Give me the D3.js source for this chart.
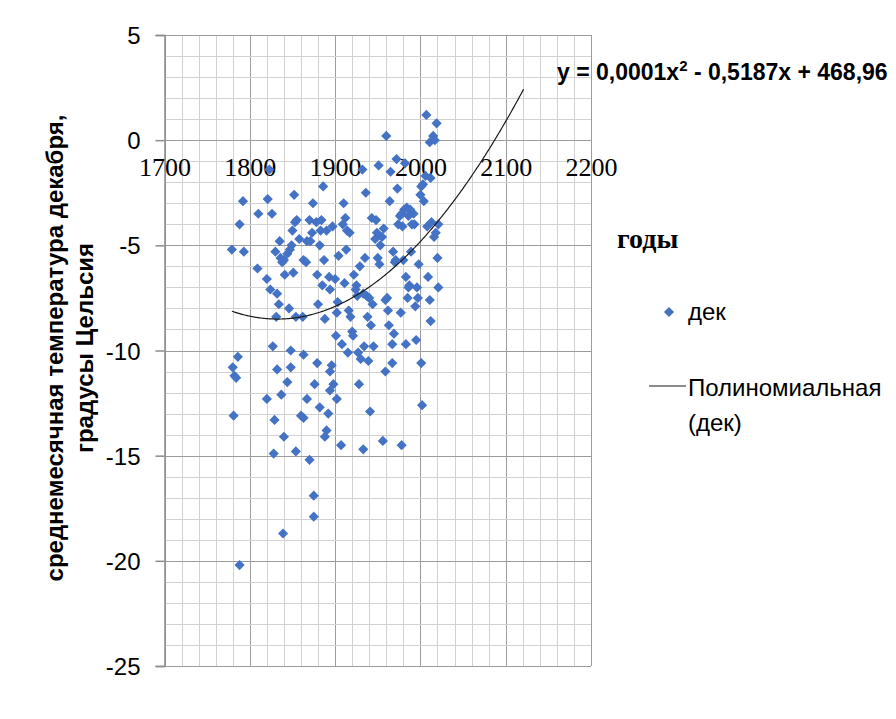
<!DOCTYPE html>
<html>
<head>
<meta charset="utf-8">
<script src="https://cdn.jsdelivr.net/npm/d3@7"></script>
<style>
  body { margin: 0; background: #fff; }
  svg { display: block; }
</style>
</head>
<body>
<div id="chart"></div>
<script>
// December mean temperatures
const years = [
  2007, 2019, 1960, 2015, 2011, 2017, 1951, 1972, 1965, 1982, 1932, 1823, 2006, 2012, 2003, 2001,
  1886, 1852, 1936, 1973, 1792, 1821, 1874, 1910, 1964, 2000, 2004, 1810, 1826, 1855, 1870, 1878,
  1884, 1897, 1912, 1909, 1943, 1948, 1976, 1984, 1992, 1979, 1993, 1974, 1986, 2008, 2013, 2021,
  2018, 2016, 1788, 1850, 1873, 1858, 1867, 1883, 1890, 1914, 1949, 1957, 1955, 1947, 1953, 1835,
  1871, 1853, 1849, 1917, 1981, 1990, 1978, 1988,
  1882, 1913, 1779, 1793, 1830, 1836, 1840, 1844, 1847, 1838, 1863, 1866, 1887, 1904, 1935, 1929,
  1950, 1952, 1968, 1970, 1971, 1980, 1989, 1998, 2020, 1809, 1820, 1841, 1851, 1824, 1832, 1834,
  1846, 1831, 1854, 1862, 1879, 1885, 1893, 1894, 1900, 1911, 1922, 1925, 1924, 1880, 1888, 1903,
  1902, 1916, 1918, 1920, 1901, 1908, 1915, 1926, 1937, 1940, 1944, 1959, 1961, 1962, 1938, 1942,
  1963, 1934, 1927, 1930, 1939, 1945, 1969, 1967, 1977, 1983, 1987, 1986, 1996, 1997, 1985, 1994,
  2009, 2011, 2021, 2012, 1983, 1995, 2001, 1959, 1967, 1827, 1786, 1780, 1784, 1782, 1848, 1863,
  1879, 1896, 1894, 1832, 1848, 1844, 1876, 1898, 1894, 1928, 1820, 1837, 1867, 1902, 1882, 1941,
  2002, 1781, 1829, 1860, 1863, 1892, 1890, 1888, 1840, 1907, 1933, 1956, 1978, 1828, 1854, 1870,
  1875, 1875, 1839, 1788, 1933, 1921
];
const decTemps = [
  1.2, 0.8, 0.2, 0.2, -0.1, 0.0, -1.2, -0.9, -1.5, -1.1, -1.4, -1.4, -1.7, -1.8, -2.1, -2.2,
  -2.2, -2.6, -2.5, -2.3, -2.9, -2.8, -3.0, -3.0, -2.9, -2.6, -2.9, -3.5, -3.5, -3.8, -3.8, -3.9,
  -3.8, -4.1, -3.7, -4.0, -3.7, -3.8, -3.6, -3.2, -3.5, -4.1, -4.0, -4.0, -3.6, -4.1, -3.9, -4.0,
  -4.4, -4.6, -4.0, -4.3, -4.4, -4.7, -4.8, -4.3, -4.3, -4.3, -4.4, -4.2, -4.6, -4.7, -5.0, -4.8,
  -4.8, -3.9, -5.0, -4.4, -3.3, -4.0, -3.5, -3.3,
  -5.0, -5.2, -5.2, -5.3, -5.3, -5.6, -5.7, -5.4, -5.2, -5.8, -5.7, -5.8, -5.7, -5.5, -5.6, -6.0,
  -5.6, -5.9, -5.3, -5.8, -5.7, -5.7, -5.3, -5.9, -5.6, -6.1, -6.6, -6.4, -6.3, -7.1, -7.3, -7.8,
  -8.0, -8.4, -8.4, -8.4, -6.4, -6.9, -6.5, -7.1, -6.6, -6.8, -6.4, -6.9, -7.1, -7.8, -8.5, -7.7,
  -8.2, -8.1, -8.4, -9.1, -9.3, -9.7, -10.1, -7.4, -7.4, -7.5, -7.8, -7.6, -7.5, -8.1, -8.4, -8.8,
  -8.8, -9.8, -10.1, -10.4, -10.5, -9.8, -9.2, -9.7, -8.2, -6.5, -6.9, -7.0, -7.0, -7.5, -7.5, -7.9,
  -6.5, -7.6, -7.0, -8.6, -9.7, -9.5, -10.6, -11.0, -10.6, -9.8, -10.3, -10.8, -11.3, -11.2, -10.0, -10.2,
  -10.6, -10.7, -11.0, -10.9, -10.8, -11.5, -11.6, -11.6, -11.9, -11.6, -12.3, -12.1, -12.3, -12.3, -12.7, -12.9,
  -12.6, -13.1, -13.3, -13.1, -13.2, -13.0, -13.8, -14.1, -14.1, -14.5, -14.7, -14.3, -14.5, -14.9, -14.8, -15.2,
  -16.9, -17.9, -18.7, -20.2, -7.3, -9.3
];

const xTicks = [1700, 1800, 1900, 2000, 2100, 2200];
const yTicks = [5, 0, -5, -10, -15, -20, -25];
const seriesName = 'дек';
const trendName = ['Полиномиальная', '(дек)'];
const forecastYears = 100;

const width = 896, height = 719;
const plot = { left: 164.5, right: 591, top: 35, bottom: 666 };
const blue = '#4472c4';
const sans = '"Liberation Sans", Arial, sans-serif';
const serif = '"Liberation Serif", "Times New Roman", serif';

const svg = d3.select('#chart')
  .append('svg')
  .attr('width', width)
  .attr('height', height);

svg.append('rect').attr('width', width).attr('height', height).attr('fill', '#fff');

const x = d3.scaleLinear().domain([1700, 2200]).range([plot.left, plot.right]);
const y = d3.scaleLinear().domain([-25, 5]).range([plot.bottom, plot.top]);

// Grid: minor every 20 years / 1 degree, major every 100 years / 5 degrees
const grid = svg.append('g').attr('shape-rendering', 'crispEdges');
d3.range(1700, 2201, 20).forEach(v => {
  const major = v % 100 === 0;
  grid.append('line')
    .attr('x1', Math.round(x(v)) + 0.5).attr('x2', Math.round(x(v)) + 0.5)
    .attr('y1', plot.top).attr('y2', plot.bottom)
    .attr('stroke', major ? '#9c9c9c' : '#d2d2d2')
    .attr('stroke-width', 1.5);
});
d3.range(-25, 6, 1).forEach(v => {
  const major = v % 5 === 0;
  grid.append('line')
    .attr('x1', plot.left).attr('x2', plot.right)
    .attr('y1', Math.round(y(v)) + 0.5).attr('y2', Math.round(y(v)) + 0.5)
    .attr('stroke', major ? '#9c9c9c' : '#d2d2d2')
    .attr('stroke-width', 1.5);
});

// Y axis with outward ticks
const yAxis = svg.append('g')
  .attr('transform', `translate(${plot.left},0)`)
  .call(d3.axisLeft(y).tickValues(yTicks).tickSize(9))
  .attr('font-family', sans)
  .attr('font-size', 24);
yAxis.select('.domain').attr('stroke', '#8c8c8c').attr('stroke-width', 1.5);
yAxis.selectAll('.tick line').attr('stroke', '#8c8c8c').attr('stroke-width', 1.5);
yAxis.selectAll('.tick text').attr('fill', '#000').attr('x', -24).attr('dy', '0.36em')
  .text(d => d < 0 ? '-' + Math.abs(d) : d);

// X axis crossing at 0, serif labels
const xAxis = svg.append('g')
  .attr('transform', `translate(0,${y(0)})`)
  .call(d3.axisBottom(x).tickValues(xTicks).tickSize(0).tickFormat(d3.format('d')))
  .attr('font-family', serif)
  .attr('font-size', 26);
xAxis.select('.domain').remove();
xAxis.selectAll('.tick text').attr('fill', '#000').attr('y', 17).attr('dy', '0.71em');

// Points
const diamond = d3.symbol().type(d3.symbolDiamond2).size(66);
svg.append('g')
  .selectAll('path')
  .data(years.map((yr, i) => ({ yr, t: decTemps[i] })))
  .join('path')
  .attr('d', diamond)
  .attr('transform', d => `translate(${x(d.yr)},${y(d.t)})`)
  .attr('fill', blue);

// Polynomial (order 2) least squares trend, extended forward
function fitQuadratic(xs, ys) {
  const x0 = 1900, s = 100;
  const S = [0, 0, 0, 0, 0], T = [0, 0, 0];
  xs.forEach((xv, i) => {
    const t = (xv - x0) / s;
    for (let k = 0; k < 5; k++) S[k] += Math.pow(t, k);
    for (let k = 0; k < 3; k++) T[k] += ys[i] * Math.pow(t, k);
  });
  const A = [[S[0], S[1], S[2], T[0]], [S[1], S[2], S[3], T[1]], [S[2], S[3], S[4], T[2]]];
  for (let c = 0; c < 3; c++) {
    for (let r = c + 1; r < 3; r++) {
      const f = A[r][c] / A[c][c];
      for (let k = c; k < 4; k++) A[r][k] -= f * A[c][k];
    }
  }
  const b = [0, 0, 0];
  for (let r = 2; r >= 0; r--) {
    let v = A[r][3];
    for (let k = r + 1; k < 3; k++) v -= A[r][k] * b[k];
    b[r] = v / A[r][r];
  }
  return xv => { const t = (xv - x0) / s; return b[0] + b[1] * t + b[2] * t * t; };
}
const trend = fitQuadratic(years, decTemps);
const trendYears = d3.range(d3.min(years), d3.max(years) + forecastYears + 1, 1);
svg.append('path')
  .datum(trendYears)
  .attr('fill', 'none')
  .attr('stroke', '#1a1a1a')
  .attr('stroke-width', 1.2)
  .attr('d', d3.line().x(d => x(d)).y(d => y(trend(d))));

// Trend equation label (as Excel prints it)
const eq = svg.append('text')
  .attr('x', 557).attr('y', 80)
  .attr('font-family', sans)
  .attr('font-size', 23).attr('font-weight', 'bold');
eq.append('tspan').text('y = 0,0001x');
eq.append('tspan').attr('font-size', 15).attr('dy', -9).text('2');
eq.append('tspan').attr('dy', 9).text(' - 0,5187x + 468,96');

// Axis titles
const yTitle = svg.append('text')
  .attr('transform', 'translate(0,348) rotate(-90)')
  .attr('text-anchor', 'middle')
  .attr('font-family', sans)
  .attr('font-size', 24).attr('font-weight', 'bold');
yTitle.append('tspan').attr('x', 0).attr('y', 63).text('среднемесячная температура декабря,');
yTitle.append('tspan').attr('x', 0).attr('y', 93).text('градусы Цельсия');

svg.append('text')
  .attr('x', 617).attr('y', 248)
  .attr('font-family', serif)
  .attr('font-size', 28).attr('font-weight', 'bold')
  .text('годы');

// Legend
const legend = svg.append('g')
  .attr('font-family', sans)
  .attr('font-size', 24);
legend.append('path').attr('d', diamond).attr('transform', 'translate(669,312)').attr('fill', blue);
legend.append('text').attr('x', 688).attr('y', 320).text(seriesName);
legend.append('line').attr('x1', 649).attr('x2', 686).attr('y1', 386).attr('y2', 386)
  .attr('stroke', '#1a1a1a').attr('stroke-width', 1.2);
legend.append('text').attr('x', 688).attr('y', 396).text(trendName[0]);
legend.append('text').attr('x', 688).attr('y', 431).text(trendName[1]);
</script>
</body>
</html>
